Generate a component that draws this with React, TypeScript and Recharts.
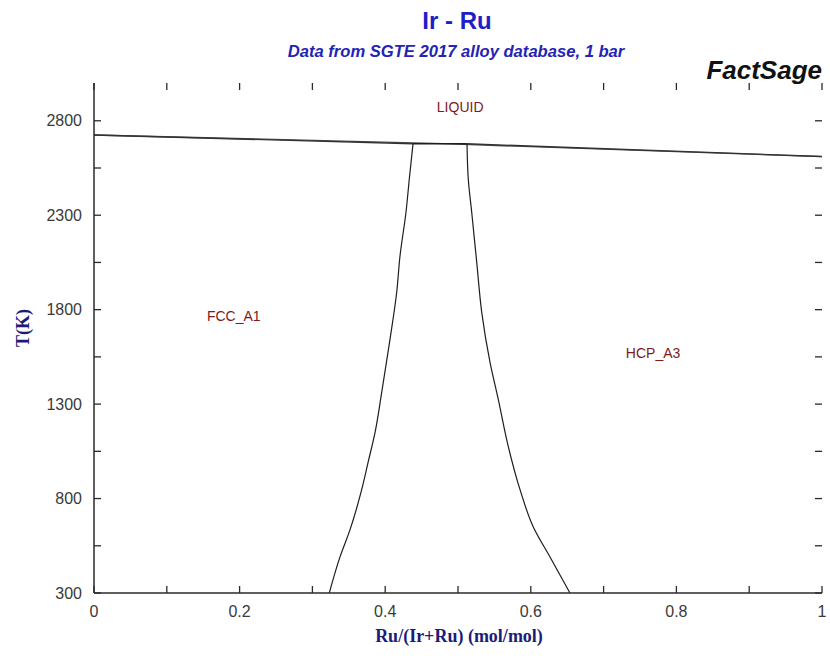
import React from 'react';
import { ComposedChart, Line, XAxis, YAxis, ReferenceDot } from 'recharts';

// ---------- data ----------
const xMajorTicks = [0, 0.2, 0.4, 0.6, 0.8, 1];
const xAllTicks = [0, 0.1, 0.2, 0.3, 0.4, 0.5, 0.6, 0.7, 0.8, 0.9, 1];
const yMajorTicks = [300, 800, 1300, 1800, 2300, 2800];
const yAllTicks = [300, 550, 800, 1050, 1300, 1550, 1800, 2050, 2300, 2550, 2800];

const liquidus = [
  { x: 0, T: 2725 },
  { x: 0.48, T: 2679 },
  { x: 1, T: 2610 },
];
const fccSolidus = [
  { x: 0, T: 2725 },
  { x: 0.438, T: 2678 },
];
const peritectic = [
  { x: 0.438, T: 2678 },
  { x: 0.512, T: 2678 },
];
const hcpSolidus = [
  { x: 0.512, T: 2678 },
  { x: 1, T: 2611 },
];
const fccSolvus = [
  { x: 0.3232, T: 300 },
  { x: 0.3379, T: 491 },
  { x: 0.3516, T: 634 },
  { x: 0.3677, T: 847 },
  { x: 0.3764, T: 990 },
  { x: 0.386, T: 1149 },
  { x: 0.3952, T: 1362 },
  { x: 0.4066, T: 1643 },
  { x: 0.4158, T: 1892 },
  { x: 0.4203, T: 2083 },
  { x: 0.4286, T: 2317 },
  { x: 0.4331, T: 2492 },
  { x: 0.4382, T: 2678 },
];
const hcpSolvus = [
  { x: 0.6538, T: 300 },
  { x: 0.6264, T: 491 },
  { x: 0.6034, T: 650 },
  { x: 0.5852, T: 847 },
  { x: 0.5691, T: 1075 },
  { x: 0.5554, T: 1324 },
  { x: 0.544, T: 1521 },
  { x: 0.5326, T: 1786 },
  { x: 0.5257, T: 2052 },
  { x: 0.5188, T: 2317 },
  { x: 0.5141, T: 2492 },
  { x: 0.5124, T: 2678 },
];
const regionLabels = [
  { name: 'LIQUID', x: 0.503, T: 2874 },
  { name: 'FCC_A1', x: 0.192, T: 1765 },
  { name: 'HCP_A3', x: 0.768, T: 1569 },
];

// ---------- layout & styles ----------
const W = 830;
const H = 662;
const MARGIN = { top: 83, right: 8, bottom: 39, left: 34 };
const Y_AXIS_W = 60;
const X_AXIS_H = 30;
const PLOT_LEFT = MARGIN.left + Y_AXIS_W;
const PLOT_RIGHT = W - MARGIN.right;
const PLOT_TOP = MARGIN.top;
const PLOT_BOTTOM = H - MARGIN.bottom - X_AXIS_H;

const AXIS = '#2a2a2a';
const CURVE = '#1e1e1e';
const SANS = '"Liberation Sans", Arial, sans-serif';
const SERIF = '"Liberation Serif", "Times New Roman", serif';
const TICK_LEN = 7;

// left tick also draws the matching inward tick on the right frame edge
const LeftTick = (props: any) => {
  const { y, payload } = props;
  const major = yMajorTicks.includes(payload.value);
  return (
    <g>
      <line x1={PLOT_LEFT} y1={y} x2={PLOT_LEFT + TICK_LEN} y2={y} stroke={AXIS} strokeWidth={1.3} />
      <line x1={PLOT_RIGHT} y1={y} x2={PLOT_RIGHT - TICK_LEN} y2={y} stroke={AXIS} strokeWidth={1.3} />
      {major && (
        <text x={PLOT_LEFT - 12} y={y} textAnchor="end" dominantBaseline="central" fontSize={16} fill="#3a3a3a" fontFamily={SANS}>
          {payload.value}
        </text>
      )}
    </g>
  );
};
// bottom tick also draws the matching inward tick on the top frame edge
const BottomTick = (props: any) => {
  const { x, payload } = props;
  const major = xMajorTicks.includes(payload.value);
  return (
    <g>
      <line x1={x} y1={PLOT_BOTTOM} x2={x} y2={PLOT_BOTTOM - TICK_LEN} stroke={AXIS} strokeWidth={1.3} />
      <line x1={x} y1={PLOT_TOP} x2={x} y2={PLOT_TOP + TICK_LEN} stroke={AXIS} strokeWidth={1.3} />
      {major && (
        <text x={x} y={PLOT_BOTTOM + 18} textAnchor="middle" dominantBaseline="central" fontSize={16} fill="#3a3a3a" fontFamily={SANS}>
          {payload.value}
        </text>
      )}
    </g>
  );
};

const lineProps = {
  dataKey: 'T',
  xAxisId: 'b',
  yAxisId: 'l',
  dot: false,
  activeDot: false,
  isAnimationActive: false,
  strokeWidth: 1.4,
};

export default function App() {
  return (
    <div style={{ position: 'absolute', left: 0, top: 0, width: W, height: H, background: '#fff' }}>
      <ComposedChart width={W} height={H} margin={MARGIN}>
        <XAxis xAxisId="b" dataKey="x" type="number" domain={[0, 1]} ticks={xAllTicks} interval={0} allowDataOverflow
          height={X_AXIS_H} tickSize={0} tickMargin={0} tickLine={false} tick={<BottomTick />} stroke={AXIS} strokeWidth={1.5} />
        <XAxis xAxisId="t" orientation="top" dataKey="x" type="number" domain={[0, 1]} allowDataOverflow
          height={0} tick={false} tickLine={false} stroke={AXIS} strokeWidth={1.5} />
        <YAxis yAxisId="l" type="number" domain={[300, 3000]} ticks={yAllTicks} interval={0} allowDataOverflow
          width={Y_AXIS_W} tickSize={0} tickMargin={0} tickLine={false} tick={<LeftTick />} stroke={AXIS} strokeWidth={1.5} />
        <YAxis yAxisId="r" orientation="right" type="number" domain={[300, 3000]} allowDataOverflow
          width={0} tick={false} tickLine={false} stroke={AXIS} strokeWidth={1.5} />
        <Line {...lineProps} type="linear" xAxisId="t" yAxisId="r" data={liquidus} stroke="none" />
        <Line {...lineProps} type="linear" data={liquidus} stroke="#4a4a4a" />
        <Line {...lineProps} type="linear" data={fccSolidus} stroke="#333" />
        <Line {...lineProps} type="linear" data={peritectic} stroke={CURVE} />
        <Line {...lineProps} type="linear" data={hcpSolidus} stroke="#333" />
        <Line {...lineProps} type="monotoneY" data={fccSolvus} stroke={CURVE} strokeWidth={1.2} />
        <Line {...lineProps} type="monotoneY" data={hcpSolvus} stroke={CURVE} strokeWidth={1.2} />
        {regionLabels.map((r) => (
          <ReferenceDot key={r.name} xAxisId="b" yAxisId="l" x={r.x} y={r.T} r={0} stroke="none" fill="none"
            label={{ value: r.name, position: 'center', fill: '#7e1a1a', fontSize: 14, fontFamily: SANS }} />
        ))}
      </ComposedChart>

      <div style={{ position: 'absolute', left: 257, width: 400, top: 7, height: 28, lineHeight: '28px', textAlign: 'center', fontFamily: SANS, fontWeight: 'bold', fontSize: 24, color: '#1f1fc8' }}>
        Ir - Ru
      </div>
      <div style={{ position: 'absolute', left: 156, width: 600, top: 42, height: 20, lineHeight: '20px', textAlign: 'center', fontFamily: SANS, fontWeight: 'bold', fontStyle: 'italic', fontSize: 16.6, color: '#2424b4' }}>
        Data from SGTE 2017 alloy database, 1 bar
      </div>
      <div style={{ position: 'absolute', right: 8, top: 55, height: 30, lineHeight: '30px', textAlign: 'right', fontFamily: SANS, fontWeight: 'bold', fontStyle: 'italic', fontSize: 26, color: '#111' }}>
        FactSage
      </div>
      <div style={{ position: 'absolute', left: 259, width: 400, top: 625, height: 22, lineHeight: '22px', textAlign: 'center', fontFamily: SERIF, fontWeight: 'bold', fontSize: 18, color: '#1c1c78' }}>
        Ru/(Ir+Ru) (mol/mol)
      </div>
      <div style={{ position: 'absolute', left: 23 - 40, top: 328 - 11, width: 80, height: 22, lineHeight: '22px', textAlign: 'center', transform: 'rotate(-90deg)', fontFamily: SERIF, fontWeight: 'bold', fontSize: 18, color: '#1c1c78' }}>
        T(K)
      </div>
    </div>
  );
}
